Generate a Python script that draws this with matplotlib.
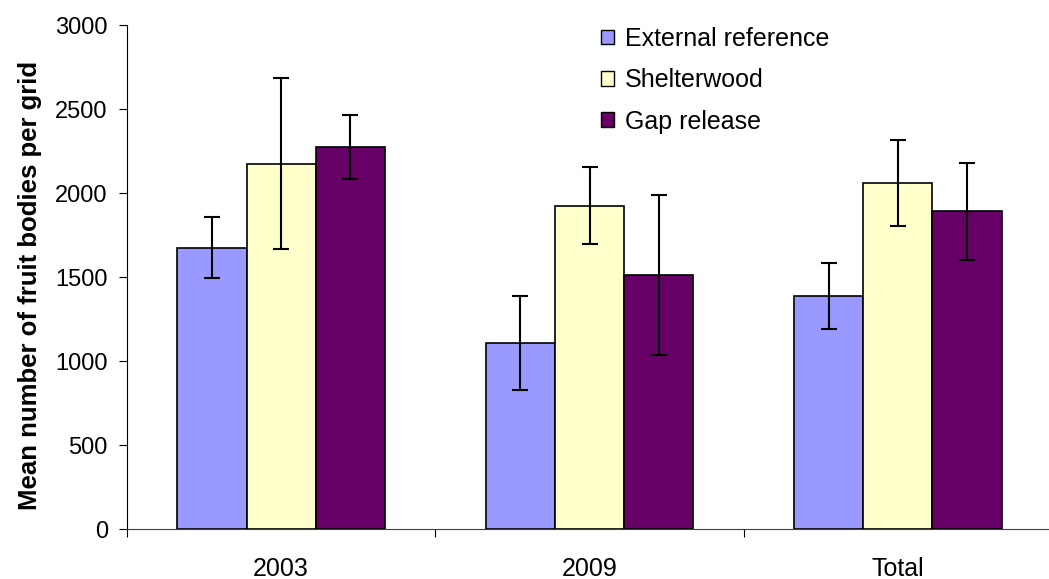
import numpy as np
import matplotlib
matplotlib.use("Agg")
import matplotlib.pyplot as plt
from matplotlib.patches import Patch

plt.rcParams['font.family'] = ['Liberation Sans', 'DejaVu Sans']

# data
categories = ['2003', '2009', 'Total']
series = ['External reference', 'Shelterwood', 'Gap release']
ext_ref = [1675, 1107, 1389]
shelter = [2175, 1925, 2058]
gap_rel = [2272, 1510, 1890]
ext_err = [180, 280, 197]
shelter_err = [510, 228, 256]
gap_err = [190, 477, 288]
colors = ['#9999FF', '#FFFFCC', '#660066']

W, H = 1049, 579
fig = plt.figure(figsize=(W / 100, H / 100), dpi=100)
ax = fig.add_axes([127 / W, 1 - 529 / H, 925 / W, 504 / H])

x = np.arange(len(categories))
bw = 0.2246
values = [ext_ref, shelter, gap_rel]
errors = [ext_err, shelter_err, gap_err]
for i, (vals, errs, c, name) in enumerate(zip(values, errors, colors, series)):
    pos = x + (i - 1) * bw
    ax.bar(pos, vals, width=bw, color=c, edgecolor='black', linewidth=1.2,
           label=name, zorder=2)
    ax.errorbar(pos, vals, yerr=errs, fmt='none', ecolor='black',
                elinewidth=1.5, capsize=5.5, capthick=1.5, zorder=3)

ax.set_xlim(-0.5, 2.5)
ax.set_ylim(0, 3000)
ax.set_yticks(np.arange(0, 3001, 500))
ax.tick_params(axis='y', direction='out', length=5.8, width=0.8,
               labelsize=17, pad=8)

# category boundaries as major ticks, labels on minor ticks
ax.set_xticks([-0.5, 0.5, 1.5, 2.5])
ax.set_xticklabels([])
ax.set_xticks(x, minor=True)
ax.set_xticklabels(categories, minor=True)
ax.tick_params(axis='x', which='major', direction='out', length=5.5, width=0.8)
ax.tick_params(axis='x', which='minor', length=0, labelsize=18, pad=20)

for s in ['top', 'right']:
    ax.spines[s].set_visible(False)
ax.spines['left'].set_linewidth(0.8)
ax.spines['bottom'].set_linewidth(0.8)
ax.spines['bottom'].set_color('#404040')

fig.text(30 / W, 1 - 285 / H, 'Mean number of fruit bodies per grid',
         rotation=90, ha='center', va='center', fontsize=18.5, fontweight='bold')

handles = [Patch(facecolor=c, edgecolor='black', linewidth=1.0) for c in colors]
ax.legend(handles, series, loc='upper left',
          bbox_to_anchor=(601 / W, 1 - 27 / H), bbox_transform=fig.transFigure,
          frameon=False, fontsize=18, handlelength=0.52, handleheight=0.52,
          handletextpad=0.45, labelspacing=0.69, borderpad=0, borderaxespad=0)

fig.savefig('out.png', dpi=100)
